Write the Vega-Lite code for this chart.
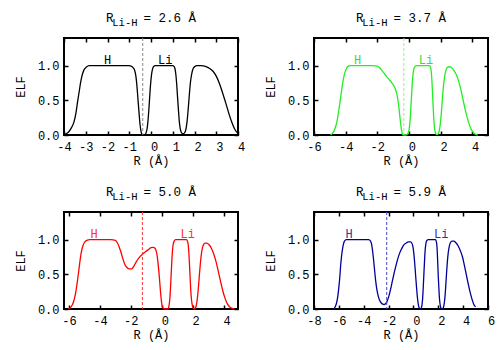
{
  "$schema": "https://vega.github.io/schema/vega-lite/v6.json",
  "background": "white",
  "padding": {"left": 13, "top": 11, "right": 5, "bottom": 5},
  "config": {
    "font": "Liberation Mono",
    "view": {"stroke": "#000000", "strokeWidth": 2},
    "axis": {"domain": false, "grid": false, "tickSize": -4, "tickWidth": 1.5, "tickColor": "#000000", "labelFont": "Liberation Mono", "labelFontSize": 12, "labelColor": "#000000", "labelFlush": false, "labelOverlap": false, "titleFont": "Liberation Mono", "titleFontSize": 12, "titleFontWeight": "normal", "titleColor": "#000000"},
    "title": {"font": "Liberation Mono", "fontSize": 12.5, "fontWeight": "normal", "color": "#000000", "subtitleFont": "Liberation Mono", "subtitleFontSize": 10.5, "subtitleColor": "#000000", "subtitlePadding": -7, "offset": 9, "anchor": "start", "frame": "group", "align": "left", "dx": 42}
  },
  "datasets": {
    "c1": [
      {"x": -4.0, "y": 0.0}, {"x": -3.88, "y": 0.02}, {"x": -3.77, "y": 0.05}, {"x": -3.65, "y": 0.11}, {"x": -3.54, "y": 0.19}, {"x": -3.45, "y": 0.32}, {"x": -3.38, "y": 0.47}, {"x": -3.3, "y": 0.63}, {"x": -3.23, "y": 0.77}, {"x": -3.15, "y": 0.88}, {"x": -3.08, "y": 0.94}, {"x": -2.97, "y": 0.98}, {"x": -2.85, "y": 1.0}, {"x": -2.0, "y": 1.0}, {"x": -1.0, "y": 1.0}, {"x": -0.92, "y": 0.995}, {"x": -0.85, "y": 0.98}, {"x": -0.77, "y": 0.95}, {"x": -0.7, "y": 0.86}, {"x": -0.65, "y": 0.72}, {"x": -0.6, "y": 0.52}, {"x": -0.55, "y": 0.32}, {"x": -0.5, "y": 0.14}, {"x": -0.45, "y": 0.04}, {"x": -0.4, "y": 0.005}, {"x": -0.35, "y": 0.0}, {"x": -0.28, "y": 0.005}, {"x": -0.23, "y": 0.03}, {"x": -0.18, "y": 0.09}, {"x": -0.14, "y": 0.2}, {"x": -0.1, "y": 0.36}, {"x": -0.06, "y": 0.55}, {"x": -0.02, "y": 0.73}, {"x": 0.02, "y": 0.86}, {"x": 0.07, "y": 0.95}, {"x": 0.12, "y": 0.99}, {"x": 0.2, "y": 1.0}, {"x": 1.0, "y": 1.0}, {"x": 1.06, "y": 0.99}, {"x": 1.1, "y": 0.96}, {"x": 1.14, "y": 0.88}, {"x": 1.18, "y": 0.74}, {"x": 1.22, "y": 0.55}, {"x": 1.26, "y": 0.37}, {"x": 1.3, "y": 0.2}, {"x": 1.34, "y": 0.1}, {"x": 1.39, "y": 0.04}, {"x": 1.45, "y": 0.02}, {"x": 1.5, "y": 0.02}, {"x": 1.56, "y": 0.04}, {"x": 1.61, "y": 0.09}, {"x": 1.66, "y": 0.2}, {"x": 1.71, "y": 0.37}, {"x": 1.76, "y": 0.57}, {"x": 1.81, "y": 0.75}, {"x": 1.87, "y": 0.88}, {"x": 1.94, "y": 0.96}, {"x": 2.02, "y": 0.99}, {"x": 2.1, "y": 1.0}, {"x": 2.3, "y": 1.0}, {"x": 2.5, "y": 0.99}, {"x": 2.7, "y": 0.96}, {"x": 2.85, "y": 0.92}, {"x": 3.0, "y": 0.85}, {"x": 3.15, "y": 0.74}, {"x": 3.3, "y": 0.6}, {"x": 3.45, "y": 0.45}, {"x": 3.6, "y": 0.29}, {"x": 3.72, "y": 0.18}, {"x": 3.84, "y": 0.09}, {"x": 3.95, "y": 0.04}, {"x": 4.0, "y": 0.03}
    ],
    "c2": [
      {"x": -4.95, "y": 0.0}, {"x": -4.85, "y": 0.02}, {"x": -4.73, "y": 0.06}, {"x": -4.62, "y": 0.13}, {"x": -4.52, "y": 0.23}, {"x": -4.43, "y": 0.36}, {"x": -4.35, "y": 0.49}, {"x": -4.27, "y": 0.62}, {"x": -4.2, "y": 0.73}, {"x": -4.12, "y": 0.83}, {"x": -4.05, "y": 0.9}, {"x": -3.95, "y": 0.96}, {"x": -3.85, "y": 0.99}, {"x": -3.7, "y": 1.0}, {"x": -3.0, "y": 1.0}, {"x": -2.3, "y": 1.0}, {"x": -2.0, "y": 0.995}, {"x": -1.85, "y": 0.97}, {"x": -1.7, "y": 0.93}, {"x": -1.56, "y": 0.89}, {"x": -1.4, "y": 0.84}, {"x": -1.25, "y": 0.8}, {"x": -1.1, "y": 0.76}, {"x": -0.95, "y": 0.71}, {"x": -0.85, "y": 0.66}, {"x": -0.76, "y": 0.59}, {"x": -0.68, "y": 0.48}, {"x": -0.62, "y": 0.37}, {"x": -0.56, "y": 0.24}, {"x": -0.5, "y": 0.12}, {"x": -0.45, "y": 0.05}, {"x": -0.4, "y": 0.01}, {"x": -0.33, "y": 0.0}, {"x": -0.2, "y": 0.0}, {"x": -0.1, "y": 0.01}, {"x": -0.03, "y": 0.04}, {"x": 0.02, "y": 0.09}, {"x": 0.07, "y": 0.2}, {"x": 0.11, "y": 0.34}, {"x": 0.15, "y": 0.5}, {"x": 0.19, "y": 0.66}, {"x": 0.23, "y": 0.8}, {"x": 0.28, "y": 0.91}, {"x": 0.34, "y": 0.97}, {"x": 0.42, "y": 0.995}, {"x": 0.5, "y": 1.0}, {"x": 1.3, "y": 1.0}, {"x": 1.36, "y": 0.98}, {"x": 1.41, "y": 0.92}, {"x": 1.45, "y": 0.8}, {"x": 1.49, "y": 0.62}, {"x": 1.53, "y": 0.42}, {"x": 1.57, "y": 0.24}, {"x": 1.62, "y": 0.1}, {"x": 1.68, "y": 0.03}, {"x": 1.75, "y": 0.005}, {"x": 1.82, "y": 0.01}, {"x": 1.88, "y": 0.03}, {"x": 1.94, "y": 0.09}, {"x": 1.99, "y": 0.17}, {"x": 2.04, "y": 0.29}, {"x": 2.09, "y": 0.44}, {"x": 2.14, "y": 0.59}, {"x": 2.2, "y": 0.74}, {"x": 2.27, "y": 0.86}, {"x": 2.35, "y": 0.94}, {"x": 2.45, "y": 0.98}, {"x": 2.56, "y": 0.985}, {"x": 2.7, "y": 0.97}, {"x": 2.85, "y": 0.93}, {"x": 3.0, "y": 0.87}, {"x": 3.15, "y": 0.77}, {"x": 3.3, "y": 0.64}, {"x": 3.45, "y": 0.48}, {"x": 3.6, "y": 0.33}, {"x": 3.75, "y": 0.2}, {"x": 3.9, "y": 0.1}, {"x": 4.05, "y": 0.04}, {"x": 4.2, "y": 0.01}, {"x": 4.35, "y": 0.0}
    ],
    "c3": [
      {"x": -6.05, "y": 0.0}, {"x": -5.9, "y": 0.02}, {"x": -5.78, "y": 0.06}, {"x": -5.67, "y": 0.13}, {"x": -5.57, "y": 0.23}, {"x": -5.46, "y": 0.39}, {"x": -5.35, "y": 0.58}, {"x": -5.27, "y": 0.72}, {"x": -5.2, "y": 0.82}, {"x": -5.1, "y": 0.91}, {"x": -5.0, "y": 0.96}, {"x": -4.85, "y": 0.99}, {"x": -4.65, "y": 1.0}, {"x": -4.0, "y": 1.0}, {"x": -3.3, "y": 1.0}, {"x": -3.0, "y": 0.99}, {"x": -2.88, "y": 0.96}, {"x": -2.76, "y": 0.9}, {"x": -2.65, "y": 0.83}, {"x": -2.52, "y": 0.73}, {"x": -2.4, "y": 0.65}, {"x": -2.25, "y": 0.6}, {"x": -2.1, "y": 0.58}, {"x": -1.95, "y": 0.58}, {"x": -1.8, "y": 0.62}, {"x": -1.65, "y": 0.68}, {"x": -1.5, "y": 0.73}, {"x": -1.35, "y": 0.77}, {"x": -1.2, "y": 0.8}, {"x": -1.03, "y": 0.83}, {"x": -0.85, "y": 0.86}, {"x": -0.7, "y": 0.885}, {"x": -0.55, "y": 0.89}, {"x": -0.45, "y": 0.88}, {"x": -0.36, "y": 0.84}, {"x": -0.29, "y": 0.76}, {"x": -0.23, "y": 0.64}, {"x": -0.17, "y": 0.5}, {"x": -0.12, "y": 0.36}, {"x": -0.07, "y": 0.22}, {"x": -0.02, "y": 0.11}, {"x": 0.03, "y": 0.04}, {"x": 0.1, "y": 0.01}, {"x": 0.2, "y": 0.0}, {"x": 0.35, "y": 0.0}, {"x": 0.42, "y": 0.01}, {"x": 0.47, "y": 0.05}, {"x": 0.52, "y": 0.14}, {"x": 0.56, "y": 0.28}, {"x": 0.6, "y": 0.46}, {"x": 0.64, "y": 0.64}, {"x": 0.68, "y": 0.8}, {"x": 0.73, "y": 0.92}, {"x": 0.8, "y": 0.98}, {"x": 0.9, "y": 1.0}, {"x": 1.6, "y": 1.0}, {"x": 1.66, "y": 0.98}, {"x": 1.71, "y": 0.93}, {"x": 1.75, "y": 0.82}, {"x": 1.79, "y": 0.66}, {"x": 1.83, "y": 0.47}, {"x": 1.87, "y": 0.29}, {"x": 1.92, "y": 0.14}, {"x": 1.98, "y": 0.05}, {"x": 2.05, "y": 0.01}, {"x": 2.12, "y": 0.0}, {"x": 2.19, "y": 0.02}, {"x": 2.25, "y": 0.07}, {"x": 2.31, "y": 0.17}, {"x": 2.37, "y": 0.31}, {"x": 2.43, "y": 0.48}, {"x": 2.49, "y": 0.64}, {"x": 2.55, "y": 0.77}, {"x": 2.62, "y": 0.87}, {"x": 2.7, "y": 0.93}, {"x": 2.8, "y": 0.95}, {"x": 2.9, "y": 0.95}, {"x": 3.05, "y": 0.93}, {"x": 3.2, "y": 0.88}, {"x": 3.35, "y": 0.8}, {"x": 3.5, "y": 0.69}, {"x": 3.65, "y": 0.55}, {"x": 3.8, "y": 0.4}, {"x": 3.95, "y": 0.26}, {"x": 4.1, "y": 0.15}, {"x": 4.25, "y": 0.07}, {"x": 4.4, "y": 0.03}, {"x": 4.55, "y": 0.01}, {"x": 4.7, "y": 0.0}
    ],
    "c4": [
      {"x": -6.45, "y": 0.0}, {"x": -6.3, "y": 0.03}, {"x": -6.18, "y": 0.09}, {"x": -6.08, "y": 0.19}, {"x": -5.99, "y": 0.33}, {"x": -5.92, "y": 0.47}, {"x": -5.86, "y": 0.62}, {"x": -5.79, "y": 0.75}, {"x": -5.72, "y": 0.85}, {"x": -5.64, "y": 0.93}, {"x": -5.55, "y": 0.98}, {"x": -5.4, "y": 1.0}, {"x": -4.5, "y": 1.0}, {"x": -3.6, "y": 1.0}, {"x": -3.45, "y": 0.98}, {"x": -3.36, "y": 0.93}, {"x": -3.28, "y": 0.83}, {"x": -3.2, "y": 0.7}, {"x": -3.12, "y": 0.55}, {"x": -3.04, "y": 0.41}, {"x": -2.95, "y": 0.29}, {"x": -2.85, "y": 0.2}, {"x": -2.73, "y": 0.13}, {"x": -2.6, "y": 0.09}, {"x": -2.47, "y": 0.07}, {"x": -2.35, "y": 0.065}, {"x": -2.22, "y": 0.08}, {"x": -2.1, "y": 0.12}, {"x": -1.97, "y": 0.19}, {"x": -1.83, "y": 0.29}, {"x": -1.7, "y": 0.4}, {"x": -1.55, "y": 0.52}, {"x": -1.4, "y": 0.63}, {"x": -1.25, "y": 0.73}, {"x": -1.1, "y": 0.81}, {"x": -0.95, "y": 0.87}, {"x": -0.8, "y": 0.92}, {"x": -0.6, "y": 0.95}, {"x": -0.4, "y": 0.97}, {"x": -0.22, "y": 0.97}, {"x": -0.1, "y": 0.94}, {"x": -0.02, "y": 0.88}, {"x": 0.05, "y": 0.77}, {"x": 0.12, "y": 0.62}, {"x": 0.19, "y": 0.45}, {"x": 0.26, "y": 0.29}, {"x": 0.33, "y": 0.15}, {"x": 0.4, "y": 0.06}, {"x": 0.47, "y": 0.015}, {"x": 0.55, "y": 0.0}, {"x": 0.62, "y": 0.01}, {"x": 0.68, "y": 0.05}, {"x": 0.74, "y": 0.15}, {"x": 0.79, "y": 0.31}, {"x": 0.84, "y": 0.5}, {"x": 0.89, "y": 0.68}, {"x": 0.94, "y": 0.84}, {"x": 1.0, "y": 0.94}, {"x": 1.08, "y": 0.99}, {"x": 1.2, "y": 1.0}, {"x": 1.78, "y": 1.0}, {"x": 1.83, "y": 0.98}, {"x": 1.88, "y": 0.93}, {"x": 1.92, "y": 0.82}, {"x": 1.96, "y": 0.65}, {"x": 2.0, "y": 0.47}, {"x": 2.05, "y": 0.29}, {"x": 2.1, "y": 0.14}, {"x": 2.16, "y": 0.05}, {"x": 2.23, "y": 0.01}, {"x": 2.32, "y": 0.0}, {"x": 2.41, "y": 0.02}, {"x": 2.48, "y": 0.08}, {"x": 2.55, "y": 0.2}, {"x": 2.61, "y": 0.36}, {"x": 2.67, "y": 0.53}, {"x": 2.73, "y": 0.68}, {"x": 2.8, "y": 0.81}, {"x": 2.88, "y": 0.9}, {"x": 2.98, "y": 0.96}, {"x": 3.1, "y": 0.98}, {"x": 3.25, "y": 0.98}, {"x": 3.4, "y": 0.96}, {"x": 3.6, "y": 0.91}, {"x": 3.8, "y": 0.83}, {"x": 3.95, "y": 0.75}, {"x": 4.1, "y": 0.63}, {"x": 4.25, "y": 0.5}, {"x": 4.4, "y": 0.37}, {"x": 4.55, "y": 0.25}, {"x": 4.7, "y": 0.15}, {"x": 4.85, "y": 0.07}, {"x": 5.0, "y": 0.03}
    ]
  },
  "columns": 2,
  "spacing": {"row": 77, "column": 76},
  "bounds": "flush",
  "concat": [
    {
      "title": {"text": "R\u00a0\u00a0\u00a0\u00a0= 2.6 Å", "subtitle": "\u200b\u00a0Li-H"},
      "width": 174, "height": 97,
      "resolve": {"axis": {"x": "independent", "y": "independent"}},
      "layer": [
        {"data": {"name": "c1"}, "mark": {"type": "line", "color": "#000000", "strokeWidth": 1.3, "interpolate": "monotone"},
          "encoding": {
            "x": {"field": "x", "type": "quantitative", "scale": {"domain": [-4, 4], "nice": false, "zero": false}, "axis": {"orient": "bottom", "values": [-4, -3, -2, -1, 0, 1, 2, 3, 4], "title": "R (Å)", "labelExpr": "replace(datum.label, '−', '-')", "labelPadding": 10, "labelOffset": {"condition": {"test": "datum.value >= 0", "value": 3}, "value": 0}, "titlePadding": 3}},
            "y": {"field": "y", "type": "quantitative", "scale": {"domain": [0, 1.4], "nice": false}, "axis": {"orient": "left", "values": [0, 0.5, 1], "format": ".1f", "title": "ELF", "labelPadding": 9, "titlePadding": 10}}
          }},
        {"data": {"values": [{"x": -0.38}]}, "mark": {"type": "rule", "color": "#888888", "strokeDash": [3, 2], "strokeWidth": 1}, "encoding": {"x": {"field": "x", "type": "quantitative", "axis": null}}},
        {"data": {"values": [{"x": -2.0, "y": 1.03, "t": "H"}, {"x": 0.65, "y": 1.03, "t": "Li"}]},
          "mark": {"type": "text", "color": "#000000", "fontSize": 12, "baseline": "alphabetic", "font": "Liberation Mono"},
          "encoding": {
            "x": {"field": "x", "type": "quantitative", "axis": {"orient": "top", "values": [-4, -3, -2, -1, 0, 1, 2, 3, 4], "labels": false, "title": null}},
            "y": {"field": "y", "type": "quantitative", "axis": {"orient": "right", "values": [0, 0.5, 1], "labels": false, "title": null}},
            "text": {"field": "t"}
          }}
      ]
    },
    {
      "title": {"text": "R\u00a0\u00a0\u00a0\u00a0= 3.7 Å", "subtitle": "\u200b\u00a0Li-H"},
      "width": 174, "height": 97,
      "resolve": {"axis": {"x": "independent", "y": "independent"}},
      "layer": [
        {"data": {"name": "c2"}, "mark": {"type": "line", "color": "#22ee22", "strokeWidth": 1.3, "interpolate": "monotone"},
          "encoding": {
            "x": {"field": "x", "type": "quantitative", "scale": {"domain": [-6, 5], "nice": false, "zero": false}, "axis": {"orient": "bottom", "values": [-6, -4, -2, 0, 2, 4], "title": "R (Å)", "labelExpr": "replace(datum.label, '−', '-')", "labelPadding": 10, "labelOffset": {"condition": {"test": "datum.value >= 0", "value": 3}, "value": 0}, "titlePadding": 3}},
            "y": {"field": "y", "type": "quantitative", "scale": {"domain": [0, 1.4], "nice": false}, "axis": {"orient": "left", "values": [0, 0.5, 1], "format": ".1f", "title": "ELF", "labelPadding": 9, "titlePadding": 10}}
          }},
        {"data": {"values": [{"x": -0.32}]}, "mark": {"type": "rule", "color": "#99ee99", "strokeDash": [3, 2], "strokeWidth": 1}, "encoding": {"x": {"field": "x", "type": "quantitative", "axis": null}}},
        {"data": {"values": [{"x": -3.25, "y": 1.03, "t": "H"}, {"x": 1.08, "y": 1.03, "t": "Li"}]},
          "mark": {"type": "text", "color": "#33dd33", "fontSize": 12, "baseline": "alphabetic", "font": "Liberation Mono"},
          "encoding": {
            "x": {"field": "x", "type": "quantitative", "axis": {"orient": "top", "values": [-6, -4, -2, 0, 2, 4], "labels": false, "title": null}},
            "y": {"field": "y", "type": "quantitative", "axis": {"orient": "right", "values": [0, 0.5, 1], "labels": false, "title": null}},
            "text": {"field": "t"}
          }}
      ]
    },
    {
      "title": {"text": "R\u00a0\u00a0\u00a0\u00a0= 5.0 Å", "subtitle": "\u200b\u00a0Li-H"},
      "width": 174, "height": 97,
      "resolve": {"axis": {"x": "independent", "y": "independent"}},
      "layer": [
        {"data": {"name": "c3"}, "mark": {"type": "line", "color": "#ff0000", "strokeWidth": 1.3, "interpolate": "monotone"},
          "encoding": {
            "x": {"field": "x", "type": "quantitative", "scale": {"domain": [-6.32, 4.93], "nice": false, "zero": false}, "axis": {"orient": "bottom", "values": [-6, -4, -2, 0, 2, 4], "title": "R (Å)", "labelExpr": "replace(datum.label, '−', '-')", "labelPadding": 10, "labelOffset": {"condition": {"test": "datum.value >= 0", "value": 3}, "value": 0}, "titlePadding": 3}},
            "y": {"field": "y", "type": "quantitative", "scale": {"domain": [0, 1.4], "nice": false}, "axis": {"orient": "left", "values": [0, 0.5, 1], "format": ".1f", "title": "ELF", "labelPadding": 9, "titlePadding": 10}}
          }},
        {"data": {"values": [{"x": -1.25}]}, "mark": {"type": "rule", "color": "#ff3333", "strokeDash": [3, 2], "strokeWidth": 1}, "encoding": {"x": {"field": "x", "type": "quantitative", "axis": null}}},
        {"data": {"values": [{"x": -4.38, "y": 1.03, "t": "H"}, {"x": 1.68, "y": 1.03, "t": "Li"}]},
          "mark": {"type": "text", "color": "#ff3030", "fontSize": 12, "baseline": "alphabetic", "font": "Liberation Mono"},
          "encoding": {
            "x": {"field": "x", "type": "quantitative", "axis": {"orient": "top", "values": [-6, -4, -2, 0, 2, 4], "labels": false, "title": null}},
            "y": {"field": "y", "type": "quantitative", "axis": {"orient": "right", "values": [0, 0.5, 1], "labels": false, "title": null}},
            "text": {"field": "t"}
          }}
      ]
    },
    {
      "title": {"text": "R\u00a0\u00a0\u00a0\u00a0= 5.9 Å", "subtitle": "\u200b\u00a0Li-H"},
      "width": 174, "height": 97,
      "resolve": {"axis": {"x": "independent", "y": "independent"}},
      "layer": [
        {"data": {"name": "c4"}, "mark": {"type": "line", "color": "#000099", "strokeWidth": 1.3, "interpolate": "monotone"},
          "encoding": {
            "x": {"field": "x", "type": "quantitative", "scale": {"domain": [-8, 6], "nice": false, "zero": false}, "axis": {"orient": "bottom", "values": [-8, -6, -4, -2, 0, 2, 4, 6], "title": "R (Å)", "labelExpr": "replace(datum.label, '−', '-')", "labelPadding": 10, "labelOffset": {"condition": {"test": "datum.value >= 0", "value": 3}, "value": 0}, "titlePadding": 3}},
            "y": {"field": "y", "type": "quantitative", "scale": {"domain": [0, 1.4], "nice": false}, "axis": {"orient": "left", "values": [0, 0.5, 1], "format": ".1f", "title": "ELF", "labelPadding": 9, "titlePadding": 10}}
          }},
        {"data": {"values": [{"x": -2.15}]}, "mark": {"type": "rule", "color": "#4444cc", "strokeDash": [3, 2], "strokeWidth": 1}, "encoding": {"x": {"field": "x", "type": "quantitative", "axis": null}}},
        {"data": {"values": [{"x": -5.18, "y": 1.03, "t": "H"}, {"x": 2.24, "y": 1.03, "t": "Li"}]},
          "mark": {"type": "text", "color": "#3333aa", "fontSize": 12, "baseline": "alphabetic", "font": "Liberation Mono"},
          "encoding": {
            "x": {"field": "x", "type": "quantitative", "axis": {"orient": "top", "values": [-8, -6, -4, -2, 0, 2, 4, 6], "labels": false, "title": null}},
            "y": {"field": "y", "type": "quantitative", "axis": {"orient": "right", "values": [0, 0.5, 1], "labels": false, "title": null}},
            "text": {"field": "t"}
          }}
      ]
    }
  ]
}
